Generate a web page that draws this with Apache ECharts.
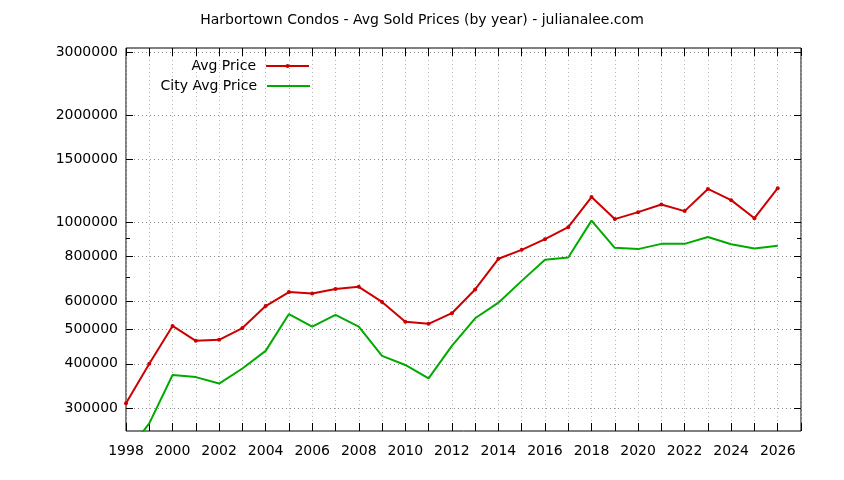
<!DOCTYPE html>
<html>
<head>
<meta charset="utf-8">
<script src="https://cdn.jsdelivr.net/npm/echarts@6/dist/echarts.min.js"></script>
<style>
  html, body { margin: 0; padding: 0; background: #fff; }
  #chart { width: 844px; height: 480px; }
</style>
</head>
<body>
<div id="chart"></div>
<script>
const years = [1998, 1999, 2000, 2001, 2002, 2003, 2004, 2005, 2006, 2007, 2008, 2009, 2010, 2011, 2012,
  2013, 2014, 2015, 2016, 2017, 2018, 2019, 2020, 2021, 2022, 2023, 2024, 2025, 2026]
const avgPrice = [310000, 400000, 511000, 464000, 467000, 504000, 581000, 636000, 630000, 649000, 658000,
  597000, 525000, 518000, 555000, 647000, 789000, 836000, 896000, 968000, 1176000, 1020000, 1067000,
  1121000, 1074000, 1240000, 1153000, 1026000, 1246000]
const cityAvgPrice = [224000, 272000, 372000, 367000, 352000, 388000, 435000, 552000, 509000, 549000, 509000,
  421000, 397000, 364000, 449000, 537000, 594000, 684000, 784000, 796000, 1010000, 847000, 840000,
  869000, 869000, 908000, 867000, 843000, 858000]
const yTicks = [300000, 400000, 500000, 600000, 800000, 1000000, 1500000, 2000000, 3000000]
const yMinorTicks = [700000, 900000]

const lg = v => Math.log10(v)
const yMin = lg(259000)
const yMax = lg(3085000)
const font = 'DejaVu Sans'
const fs = 14

function yAxisBase(pos, ticks, len, labels) {
  return {
    type: 'value', position: pos, min: yMin, max: yMax,
    axisLine: { show: false },
    axisTick: { show: true, inside: true, length: len, customValues: ticks.map(lg),
      lineStyle: { color: '#000', width: 1 } },
    axisLabel: labels ? {
      show: true, customValues: ticks.map(lg), margin: 8, color: '#000',
      fontFamily: font, fontSize: fs,
      formatter: v => String(Math.round(Math.pow(10, v) / 1000) * 1000)
    } : { show: false },
    splitLine: { show: false }
  }
}

function xAxisBase(pos, labels) {
  return {
    type: 'value', position: pos, min: 1998, max: 2027, interval: 1,
    axisLine: { show: false },
    axisTick: { show: true, inside: true, length: 8, lineStyle: { color: '#000', width: 1 } },
    axisLabel: labels ? {
      show: true, margin: 13, color: '#000', fontFamily: font, fontSize: fs,
      formatter: v => (v % 2 === 0 && v < 2027 ? String(v) : '')
    } : { show: false },
    splitLine: labels ? { show: true, lineStyle: { color: '#b4b4b4', type: [1, 3], width: 1 } } : { show: false }
  }
}

const yMain = yAxisBase('left', yTicks, 7, true)
yMain.splitLine = { show: true, lineStyle: { color: '#888', type: [1, 3], width: 1 } }

const legendText = { fontFamily: font, fontSize: fs, color: '#000', padding: [0, 5, 0, 0] }

const option = {
  animation: false,
  title: {
    text: 'Harbortown Condos - Avg Sold Prices (by year) - julianalee.com',
    left: 'center', top: 13, padding: 0,
    textStyle: { fontFamily: font, fontSize: fs, fontWeight: 'normal', color: '#000' }
  },
  legend: [{
    data: ['Avg Price'], right: 534, top: 59, padding: 0, align: 'right',
    itemWidth: 43, itemHeight: 5,
    textStyle: legendText
  }, {
    data: [{ name: 'City Avg Price', icon: 'rect' }], right: 534, top: 79, padding: 0, align: 'right',
    itemWidth: 43, itemHeight: 2,
    textStyle: legendText
  }],
  grid: { left: 126, right: 43, top: 48, bottom: 49, show: true, borderColor: '#000', borderWidth: 1,
    backgroundColor: 'transparent' },
  xAxis: [xAxisBase('bottom', true), xAxisBase('top', false)],
  yAxis: [
    yMain,
    yAxisBase('right', yTicks, 7, false),
    yAxisBase('left', yMinorTicks, 4, false),
    yAxisBase('right', yMinorTicks, 4, false)
  ],
  series: [{
    name: 'Avg Price', type: 'line',
    data: years.map((y, i) => [y, lg(avgPrice[i])]),
    symbol: 'circle', symbolSize: 4,
    itemStyle: { color: '#cc0000' },
    lineStyle: { color: '#cc0000', width: 2 }
  }, {
    name: 'City Avg Price', type: 'line',
    data: years.map((y, i) => [y, lg(cityAvgPrice[i])]),
    symbol: 'none',
    itemStyle: { color: '#00aa00' },
    lineStyle: { color: '#00aa00', width: 2 }
  }]
}

const chart = echarts.init(document.getElementById('chart'))
chart.setOption(option)
</script>
</body>
</html>
